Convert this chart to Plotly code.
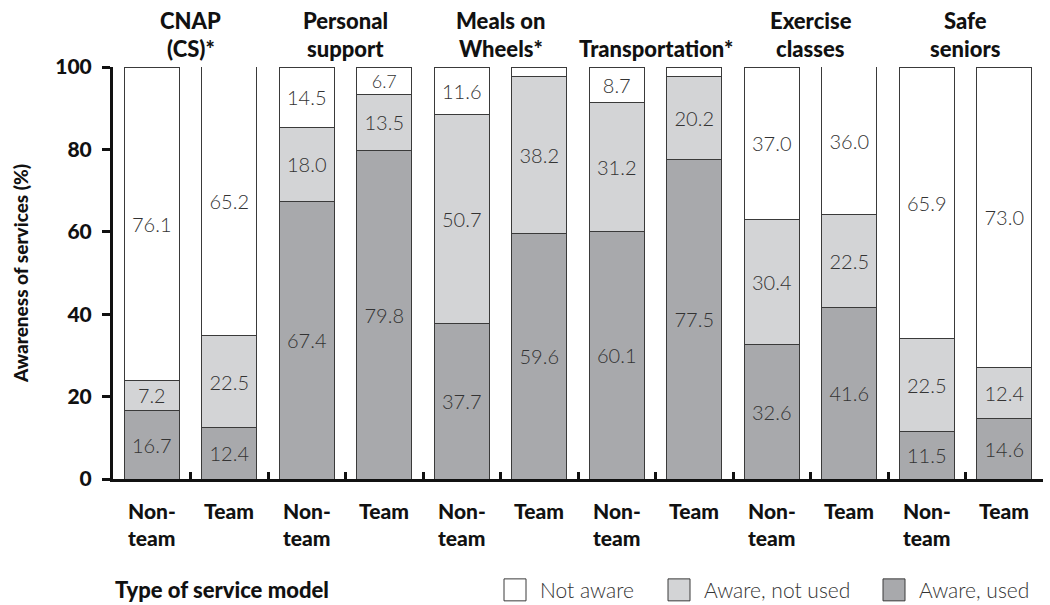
import plotly.graph_objects as go

# ---------------- data ----------------
groups = ["CNAP (CS)*", "Personal support", "Meals on Wheels*", "Transportation*", "Exercise classes", "Safe seniors"]
group_header_line1 = ["CNAP", "Personal", "Meals on", "", "Exercise", "Safe"]
group_header_line2 = ["(CS)*", "support", "Wheels*", "Transportation*", "classes", "seniors"]
model_labels = ["Non-team", "Team"] * 6
model_line1 = ["Non-", "Team"] * 6
model_line2 = ["team", ""] * 6

aware_used = [16.7, 12.4, 67.4, 79.8, 37.7, 59.6, 60.1, 77.5, 32.6, 41.6, 11.5, 14.6]
aware_not_used = [7.2, 22.5, 18.0, 13.5, 50.7, 38.2, 31.2, 20.2, 30.4, 22.5, 22.5, 12.4]
not_aware = [76.1, 65.2, 14.5, 6.7, 11.6, 2.2, 8.7, 2.3, 37.0, 36.0, 65.9, 73.0]

series_names = ["Not aware", "Aware, not used", "Aware, used"]
y_ticks = [0, 20, 40, 60, 80, 100]
y_title = "Awareness of services (%)"

# ---------------- style ----------------
FONT = "Lato"
C_DARK = "#a8a9ac"
C_LIGHT = "#d3d4d6"
C_WHITE = "#ffffff"
EDGE = "#3a3a3a"
TXT = "#333333"
BOLD = 900

W, H = 1050, 605
L, R, T, B = 113, 1043, 66.5, 479


def px_x(x):
    return (x - L) / (R - L)


def px_y(y):
    return (B - y) / (B - T)


xs = list(range(len(aware_used)))


def labels(vals):
    return [f"{v:.1f}" if v >= 5 else "" for v in vals]


fig = go.Figure()
for name, vals, col in [
    ("Aware, used", aware_used, C_DARK),
    ("Aware, not used", aware_not_used, C_LIGHT),
    ("Not aware", not_aware, C_WHITE),
]:
    fig.add_trace(go.Bar(
        x=xs, y=vals, name=name,
        marker=dict(color=col, line=dict(color=EDGE, width=1)),
        width=0.715,
        text=labels(vals), textposition="inside", insidetextanchor="middle",
        textangle=0,
        textfont=dict(family=FONT, size=20, color=TXT, weight=300),
        showlegend=False, hoverinfo="skip",
    ))

fig.update_layout(
    barmode="stack",
    width=W, height=H,
    margin=dict(l=L, r=W - R, t=T, b=H - B, autoexpand=False),
    paper_bgcolor="white", plot_bgcolor="white",
    xaxis=dict(
        range=[-0.5, len(xs) - 0.5],
        tickvals=[i + 0.5 for i in xs],
        ticktext=["" for _ in xs],
        ticks="inside", ticklen=7, tickwidth=2.5, tickcolor="#111",
        showline=True, linecolor="#111", linewidth=3,
        showgrid=False, zeroline=False, fixedrange=True,
    ),
    yaxis=dict(
        range=[0, 100],
        tickvals=y_ticks,
        ticks="outside", ticklen=8, tickwidth=2.5, tickcolor="#111",
        tickfont=dict(family=FONT, size=21, color="#111", weight=BOLD),
        ticklabelstandoff=6,
        title=dict(text=y_title, standoff=22,
                   font=dict(family=FONT, size=19, color="#111", weight=BOLD)),
        automargin=False,
        showline=True, linecolor="#111", linewidth=3,
        showgrid=False, zeroline=False, fixedrange=True,
    ),
)

ann = []
# group headers
for k in range(len(groups)):
    xc = 2 * k + 0.5
    for line, ypx in [(group_header_line1[k], 20), (group_header_line2[k], 48)]:
        if line:
            ann.append(dict(
                text=line, xref="x", yref="paper", x=xc, y=px_y(ypx),
                xanchor="center", yanchor="middle", showarrow=False,
                font=dict(family=FONT, size=22, color="#111", weight=BOLD),
            ))
# category labels
for i in xs:
    for line, ypx in [(model_line1[i], 511), (model_line2[i], 538)]:
        if line:
            ann.append(dict(
                text=line, xref="x", yref="paper", x=i, y=px_y(ypx),
                xanchor="center", yanchor="middle", showarrow=False,
                font=dict(family=FONT, size=21, color="#111", weight=BOLD),
            ))
# bottom title
ann.append(dict(
    text="Type of service model", xref="paper", yref="paper",
    x=px_x(113), y=px_y(590), xanchor="left", yanchor="middle", showarrow=False,
    font=dict(family=FONT, size=22, color="#111", weight=BOLD),
))

# custom legend
shapes = []
legend_items = [("Not aware", C_WHITE, 504, 538), ("Aware, not used", C_LIGHT, 668, 702), ("Aware, used", C_DARK, 883, 917)]
for name, col, bx, tx in legend_items:
    shapes.append(dict(
        type="rect", xref="paper", yref="paper",
        x0=px_x(bx), x1=px_x(bx + 22), y0=px_y(601), y1=px_y(579),
        fillcolor=col, line=dict(color=EDGE, width=1),
    ))
    ann.append(dict(
        text=name, xref="paper", yref="paper", x=px_x(tx), y=px_y(590),
        xanchor="left", yanchor="middle", showarrow=False,
        font=dict(family=FONT, size=21, color=TXT, weight=300),
    ))

fig.update_layout(annotations=ann, shapes=shapes)
fig.write_html(
    "out.html",
    config={"displayModeBar": False},
    post_script="document.body.style.margin='0';document.body.style.padding='0';document.body.style.overflow='hidden';",
)
